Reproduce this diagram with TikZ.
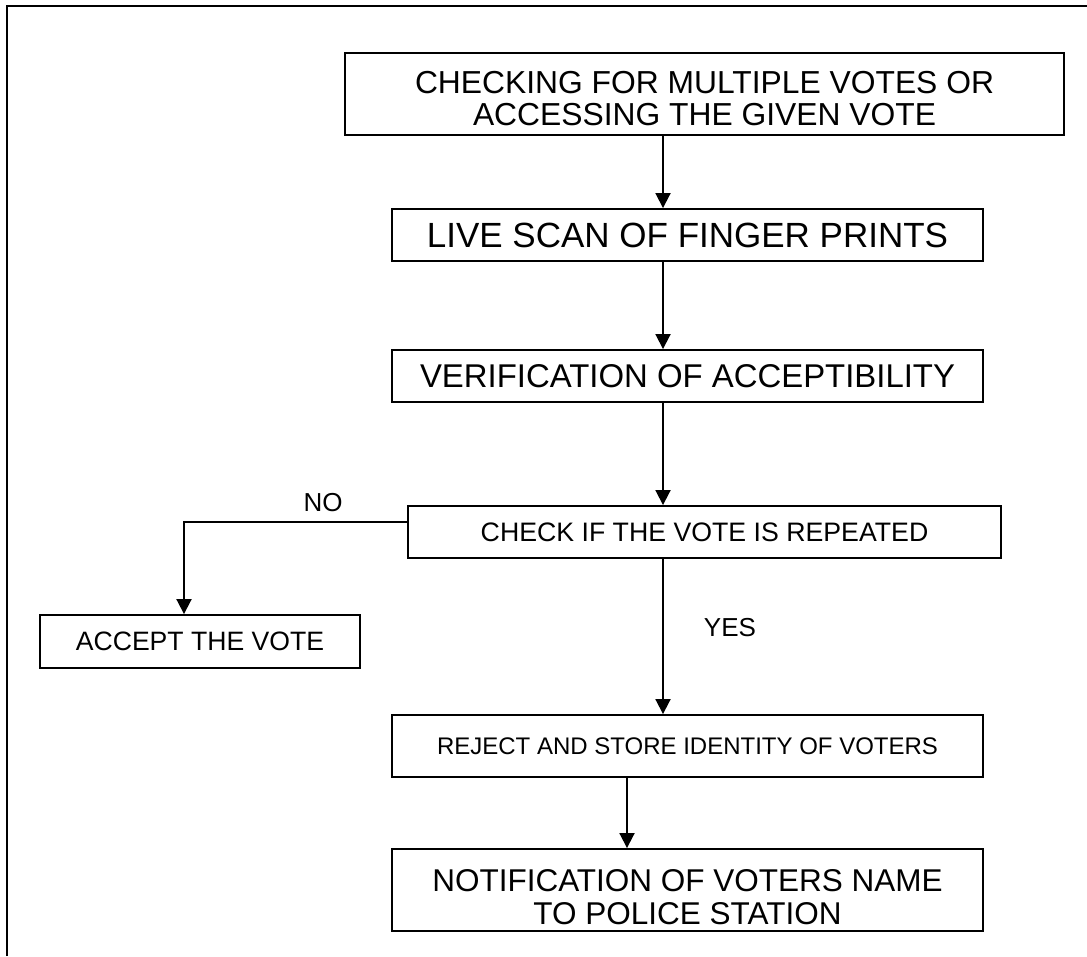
\documentclass[tikz,border=0pt]{standalone}
\usepackage{fontspec}
\setmainfont{Liberation Sans}
\usetikzlibrary{arrows.meta}
\newcommand{\fs}[2]{\fontsize{#1}{#2}\selectfont}
\tikzset{
  box/.style={draw=black, line width=1.9pt, inner sep=0pt, align=center, text=black},
  txt/.style={inner sep=0pt, align=center, text=black},
  arr/.style={draw=black, line width=1.9pt, -{Triangle[length=15pt,width=15pt]}},
  frame/.style={draw=black, line width=2.2pt},
  lbl/.style={text=black, inner sep=0pt, font=\fs{26}{28}},
}
\begin{document}
\begin{tikzpicture}[x=1pt,y=-1pt]
  \useasboundingbox (0,0) rectangle (1087,956);
  % open outer frame
  \draw[frame] (7,956) -- (7,6) -- (1087,6);

  % process boxes
  \node[box, minimum width=719pt, minimum height=82pt] (chk) at (704.5,94) {};
  \node[txt, font=\fs{31.8}{32}, yshift=-5pt] (chkt) at (chk.center)
    {CHECKING FOR MULTIPLE VOTES OR\\ACCESSING THE GIVEN VOTE};
  \node[box, minimum width=591pt, minimum height=52pt, font=\fs{35}{36}] (scan) at (687.5,235)
    {LIVE SCAN OF FINGER PRINTS};
  \node[box, minimum width=591pt, minimum height=52pt, font=\fs{32.9}{34}] (ver) at (687.5,376)
    {VERIFICATION OF ACCEPTIBILITY};
  \node[box, minimum width=593pt, minimum height=52pt, font=\fs{26.7}{28}] (rep) at (704.5,532)
    {CHECK IF THE VOTE IS REPEATED};
  \node[box, minimum width=320pt, minimum height=53pt, font=\fs{26.6}{28}] (acc) at (200,641.5)
    {ACCEPT THE VOTE};
  \node[box, minimum width=591pt, minimum height=62pt, font=\fs{24}{26}] (rej) at (687.5,746)
    {REJECT AND STORE IDENTITY OF VOTERS};
  \node[box, minimum width=591pt, minimum height=82pt] (notif) at (687.5,890) {};
  \node[txt, font=\fs{31.5}{33}, yshift=-7pt] (notift) at (notif.center)
    {NOTIFICATION OF VOTERS NAME\\TO POLICE STATION};

  % connector columns
  \coordinate (c1) at (663,0);
  \coordinate (c2) at (627,0);
  \coordinate (c3) at (184,0);
  \coordinate (noy) at (0,522);

  \draw[arr] (chk.south -| c1) -- (scan.north -| c1);
  \draw[arr] (scan.south -| c1) -- (ver.north -| c1);
  \draw[arr] (ver.south -| c1) -- (rep.north -| c1);
  \draw[arr] (rep.south -| c1) -- (rej.north -| c1);
  \draw[arr] (rej.south -| c2) -- (notif.north -| c2);
  \draw[arr] (rep.west |- noy) -| (acc.north -| c3);

  % branch labels
  \node[lbl] (lno) at (323,503) {NO};
  \node[lbl] (lyes) at (730,628) {YES};
\end{tikzpicture}
\end{document}
